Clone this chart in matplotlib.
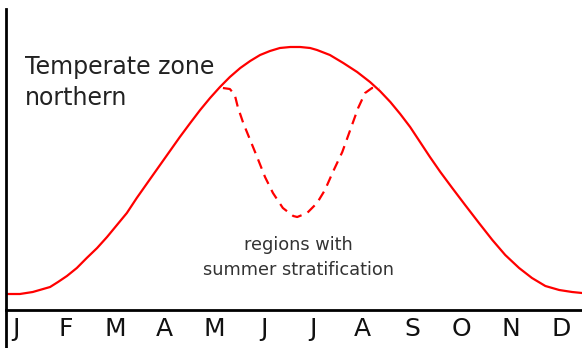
import matplotlib
matplotlib.use("Agg")
import matplotlib.pyplot as plt

# ----------- DATA -----------
months = ["J", "F", "M", "A", "M", "J", "J", "A", "S", "O", "N", "D"]

# mixed-layer temperature (arbitrary units), x in months from January
temp_x = [-0.20, 0.08, 0.34, 0.55, 0.69, 0.85, 1.03, 1.23, 1.43, 1.64,
          1.84, 2.04, 2.24, 2.44, 2.71, 2.91, 3.11, 3.31, 3.52, 3.72,
          3.92, 4.12, 4.32, 4.53, 4.73, 4.93, 5.13, 5.33, 5.54, 5.74,
          5.94, 6.08, 6.34, 6.61, 6.89, 7.15, 7.35, 7.56, 7.76, 7.96,
          8.16, 8.36, 8.57, 8.81, 9.07, 9.35, 9.62, 9.88, 10.16, 10.42,
          10.69, 10.97, 11.23, 11.43]
temp_y = [0.6, 0.6, 0.8, 1.1, 1.3, 1.8, 2.4, 3.2, 4.2, 5.2,
          6.3, 7.5, 8.7, 10.2, 12.1, 13.5, 14.9, 16.3, 17.7, 19.0,
          20.2, 21.3, 22.3, 23.2, 23.9, 24.5, 24.9, 25.2, 25.3, 25.3,
          25.2, 25.0, 24.5, 23.7, 22.8, 21.8, 20.9, 19.8, 18.6, 17.3,
          15.8, 14.3, 12.8, 11.2, 9.5, 7.7, 6.0, 4.5, 3.2, 2.2,
          1.4, 1.0, 0.8, 0.7]

# stratified summer dip
strat_x = [4.18, 4.32, 4.42, 4.48, 4.59, 4.73, 4.87, 5.03, 5.19, 5.39,
           5.60, 5.68, 5.88, 6.08, 6.24, 6.40, 6.59, 6.75, 6.91, 7.05,
           7.19, 7.35]
strat_y = [21.2, 21.1, 20.5, 19.3, 17.7, 16.0, 14.3, 12.3, 10.7, 9.2,
           8.4, 8.3, 8.7, 9.7, 11.0, 12.8, 14.8, 17.0, 19.2, 20.7,
           21.2, 21.2]

# ----------- PLOT -----------
plt.rcParams["font.family"] = ["DejaVu Sans"]

fig = plt.figure(figsize=(5.82, 3.48), dpi=100)
ax = fig.add_axes([6 / 582, 0.0, 1 - 6 / 582, 1 - 9 / 348])

ax.plot(temp_x, temp_y, color="#ff0000", lw=1.6,
        solid_capstyle="round", solid_joinstyle="round")
ax.plot(strat_x, strat_y, color="#ff0000", lw=1.6, linestyle=(0, (4.5, 3)),
        dash_joinstyle="round")

ax.set_xlim(-0.2, 11.43)
ax.set_ylim(-4.8, 29.1)

ax.spines["top"].set_visible(False)
ax.spines["right"].set_visible(False)
ax.spines["bottom"].set_position(("data", -1.0))
ax.spines["bottom"].set_linewidth(2)
ax.spines["left"].set_linewidth(2)

ax.set_yticks([])
ax.set_xticks(range(len(months)))
ax.set_xticklabels(months, fontsize=18, color="#111111")
ax.tick_params(axis="x", length=0, pad=5)

ax.text(0.18, 22.6, "Temperate zone", fontsize=17, color="#222222",
        ha="left", va="baseline")
ax.text(0.18, 19.5, "northern", fontsize=17, color="#222222",
        ha="left", va="baseline")

ax.text(5.70, 5.0, "regions with", fontsize=12.8, color="#333333",
        ha="center", va="baseline")
ax.text(5.70, 2.5, "summer stratification", fontsize=12.8, color="#333333",
        ha="center", va="baseline")

fig.savefig("out.png", dpi=100, facecolor="white")
